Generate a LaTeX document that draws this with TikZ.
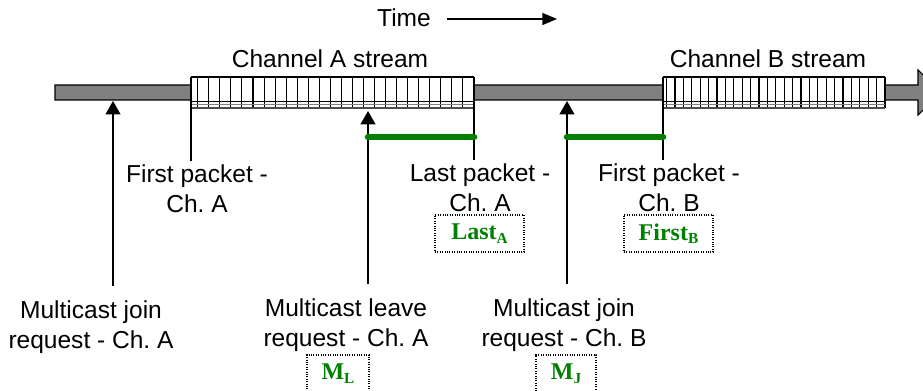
\documentclass[tikz,border=0pt]{standalone}
\usepackage{fontspec}
\setmainfont{Liberation Sans}
\newfontfamily\boxfont{Liberation Serif}
\usetikzlibrary{arrows.meta}
\frenchspacing
\definecolor{bargray}{RGB}{128,128,128}
\definecolor{pktgreen}{RGB}{0,128,0}
\newcommand{\pktlbl}[2]{{\boxfont\bfseries\color{pktgreen}\fontsize{18}{20}\selectfont #1\raisebox{-2.6pt}{\fontsize{11.5}{12}\selectfont #2}}}

\tikzset{
  lbl/.style={inner sep=0pt, align=center, font=\fontsize{18.4}{22.5}\selectfont},
  markbox/.style={draw, densely dotted, line width=0.8pt, minimum height=27.75pt, inner sep=0pt},
  uparrow/.style={-{Triangle[width=11pt,length=10pt]}, line width=1.5pt},
  gline/.style={pktgreen, line width=4.9pt, line cap=round},
}

\begin{document}
\begin{tikzpicture}[x=0.75pt,y=-0.75pt]
    \useasboundingbox (0,0) rectangle (923,391);
    \node[lbl] (time) at (404,18) {Time};
    \coordinate (timeend) at (557,19);
    \draw [-{Triangle[width=9pt,length=11pt]}, line width=1pt] ([xshift=12pt]time.east |- timeend) -- (timeend);
    \draw [fill=bargray, line width=0.8pt] (55,85) -- (918,85) -- (918,70) -- (941,92.5) -- (918,115) -- (918,100) -- (55,100) -- cycle;
    \fill [white] (191,77) rectangle (474,108);
    \fill [white] (663,77) rectangle (885,108);
    \foreach \i in {0,...,25}
        \draw [line width=0.8pt] ({474-\i*11.05},77) -- ({474-\i*11.05},108);
    \foreach \i in {0,...,26}
        \draw [line width=0.8pt] ({885-\i*8.4},77) -- ({885-\i*8.4},108);
    \draw [line width=0.6pt] (191,101.5) -- (474,101.5) (663,101.5) -- (885,101.5);
    \draw [bargray, line width=0.6pt] (191,104.5) -- (474,104.5) (663,104.5) -- (885,104.5);
    \draw [line width=0.8pt] (191,77) -- (474,77) (663,77) -- (885,77);
    \draw [black!70, line width=0.8pt] (191,108) -- (474,108) (663,108) -- (885,108);
    \node[lbl] (chA) at (330,59) {Channel A stream};
    \node[lbl] (chB) at (768,59) {Channel B stream};
    \coordinate (startA) at (191,77);
    \coordinate (endA) at (474,77);
    \coordinate (startB) at (663,77);
    \coordinate (tipJA) at (113,101);
    \coordinate (tipL) at (368,111);
    \coordinate (tipJB) at (567,101);
    \node[lbl] (firstA) at (197,189) {First packet -\\Ch. A};
    \node[lbl] (lastA) at (480,188) {Last packet -\\Ch. A};
    \node[lbl] (firstB) at (669,188) {First packet -\\Ch. B};
    \draw [line width=1.1pt] (startA) -- ([yshift=3pt]firstA.north -| startA);
    \draw [line width=1.1pt] (endA) -- ([yshift=3pt]lastA.north -| endA);
    \draw [line width=1.1pt] (startB) -- ([yshift=3pt]firstB.north -| startB);
    \node[markbox, minimum width=66.75pt] (lastbox) at (479.5,233.5) {\pktlbl{Last}{A}};
    \node[markbox, minimum width=66.75pt] (firstbox) at (668.5,233.5) {\pktlbl{First}{B}};
    \node[lbl] (joinA) at (91,327) {Multicast join\\request - Ch. A};
    \node[lbl] (leaveA) at (346,325) {Multicast leave\\request - Ch. A};
    \node[lbl] (joinB) at (564,325) {Multicast join\\request - Ch. B};
    \node[markbox, minimum width=46.5pt] (mleave) at (338,373.5) {\pktlbl{M}{L}};
    \node[markbox, minimum width=45pt] (mjoin) at (566,373.5) {\pktlbl{M}{J}};
    \draw [uparrow] ([yshift=11pt]joinA.north -| tipJA) -- (tipJA);
    \draw [uparrow] ([yshift=11pt]leaveA.north -| tipL) -- (tipL);
    \draw [uparrow] ([yshift=11pt]joinB.north -| tipJB) -- (tipJB);
    \draw [gline] (tipL |- 0,137) -- (endA |- 0,137);
    \draw [gline] (tipJB |- 0,137) -- (startB |- 0,137);
\end{tikzpicture}
\end{document}
